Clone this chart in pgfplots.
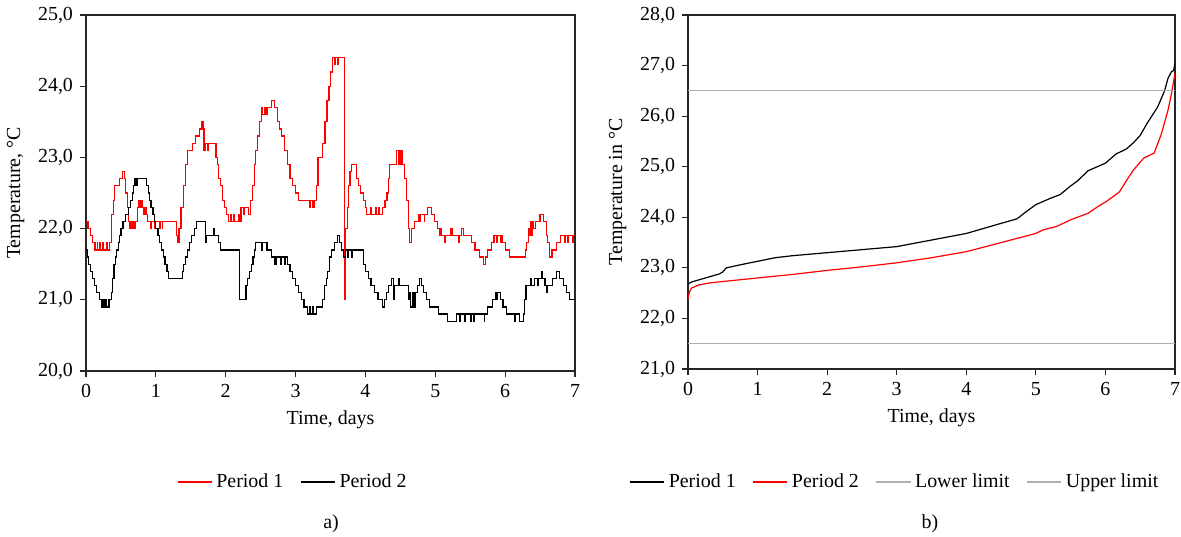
\documentclass[border=0pt]{standalone}
\usepackage{fontspec}
\setmainfont{Liberation Serif}
\usepackage{pgfplots}
\pgfplotsset{compat=1.18}
\definecolor{limgray}{RGB}{175,175,175}
\begin{document}
\fontsize{10}{12}\selectfont
\begin{tikzpicture}
\path[use as bounding box] (0,0) rectangle (590.5bp,268.5bp);
\pgfplotsset{
  mystyle/.style={
    scale only axis,
    anchor=south west,
    xmin=0,xmax=7,
    xtick={0,...,7},
    tick align=outside,
    tick pos=left,
    axis line style={line width=0.7bp, black!85},
    major tick length=3bp,
    tick style={line width=0.6bp, black!85},
    every tick label/.append style={font=\fontsize{10}{12}\selectfont},
    label style={font=\fontsize{10}{12}\selectfont},
    /pgf/number format/assume math mode=true,
    yticklabel style={/pgf/number format/fixed, /pgf/number format/fixed zerofill, /pgf/number format/precision=1, /pgf/number format/use comma},
    xlabel={Time, days},
    legend style={draw=none, fill=none, legend columns=-1, font=\fontsize{10}{12}\selectfont,
      /tikz/every even column/.append style={column sep=6.5bp}},
    legend image code/.code={\draw[##1] (0cm,0cm) -- (0.6cm,0cm);},
    legend cell align=left,
  }
}
% ---------------- left panel ----------------
\begin{axis}[mystyle,
  at={(43bp,83bp)}, width=244.5bp, height=178bp,
  ymin=20, ymax=25, ytick={20,21,...,25},
  ylabel={Temperature, °C},
  legend style={at={(0.425,-0.312)}, anchor=center},
]
\addplot[const plot, red, line width=0.6bp] coordinates {
(0.00,22.1) (0.03,22.0) (0.06,21.9) (0.09,21.8) (0.13,21.7) (0.16,21.8) (0.17,21.7) (0.20,21.8)
(0.21,21.7) (0.24,21.8) (0.25,21.7) (0.30,21.8) (0.31,21.7) (0.34,21.8) (0.36,22.0) (0.37,22.2)
(0.39,22.4) (0.41,22.6) (0.48,22.7) (0.52,22.8) (0.55,22.7) (0.57,22.5) (0.59,22.3) (0.61,22.1)
(0.63,22.0) (0.65,22.1) (0.66,22.0) (0.68,22.1) (0.69,22.0) (0.71,22.1) (0.74,22.3) (0.76,22.4)
(0.78,22.3) (0.79,22.4) (0.81,22.3) (0.83,22.2) (0.85,22.3) (0.86,22.2) (0.88,22.1) (0.92,22.0)
(0.93,22.1) (0.98,22.0) (1.00,22.1) (1.05,22.0) (1.06,22.1) (1.09,22.0) (1.10,22.1) (1.29,21.9)
(1.31,21.8) (1.33,22.0) (1.36,22.3) (1.39,22.6) (1.42,22.9) (1.45,23.1) (1.52,23.2) (1.57,23.3)
(1.62,23.4) (1.66,23.5) (1.68,23.4) (1.69,23.1) (1.71,23.2) (1.74,23.1) (1.75,23.2) (1.86,23.0)
(1.88,22.9) (1.90,22.7) (1.92,22.6) (1.95,22.4) (1.98,22.3) (2.01,22.2) (2.04,22.1) (2.07,22.2)
(2.08,22.1) (2.11,22.2) (2.12,22.1) (2.18,22.2) (2.20,22.1) (2.22,22.3) (2.25,22.2) (2.27,22.3)
(2.33,22.2) (2.35,22.4) (2.38,22.6) (2.41,22.9) (2.43,23.1) (2.46,23.3) (2.48,23.5) (2.51,23.7)
(2.53,23.6) (2.55,23.7) (2.57,23.6) (2.59,23.7) (2.65,23.8) (2.70,23.7) (2.74,23.5) (2.77,23.4)
(2.80,23.3) (2.84,23.1) (2.88,22.9) (2.92,22.7) (2.96,22.6) (3.00,22.5) (3.04,22.4) (3.20,22.3)
(3.21,22.4) (3.25,22.3) (3.27,22.4) (3.30,22.6) (3.32,23.0) (3.39,23.2) (3.42,23.5) (3.45,23.8)
(3.48,24.0) (3.50,24.2) (3.53,24.4) (3.56,24.3) (3.57,24.4) (3.60,24.3) (3.61,24.4) (3.70,21.0)
(3.71,21.6) (3.72,22.0) (3.74,22.3) (3.76,22.6) (3.78,22.8) (3.80,22.9) (3.87,22.7) (3.90,22.6)
(3.93,22.5) (3.97,22.4) (4.00,22.3) (4.02,22.2) (4.08,22.3) (4.09,22.2) (4.14,22.3) (4.15,22.2)
(4.19,22.3) (4.20,22.2) (4.25,22.3) (4.28,22.4) (4.31,22.5) (4.33,22.7) (4.35,22.9) (4.45,23.1)
(4.47,22.9) (4.48,23.1) (4.50,22.9) (4.51,23.1) (4.53,22.9) (4.56,22.7) (4.59,22.4) (4.62,22.0)
(4.63,21.8) (4.66,22.0) (4.70,22.1) (4.76,22.2) (4.78,22.1) (4.79,22.2) (4.84,22.1) (4.85,22.2)
(4.89,22.3) (4.95,22.2) (4.99,22.1) (5.03,22.0) (5.06,21.9) (5.08,22.0) (5.09,21.9) (5.14,21.8)
(5.15,21.9) (5.22,22.0) (5.24,21.9) (5.33,21.8) (5.34,21.9) (5.38,22.0) (5.40,21.9) (5.52,21.8)
(5.57,21.7) (5.63,21.6) (5.69,21.5) (5.72,21.6) (5.75,21.7) (5.80,21.8) (5.84,21.9) (5.88,21.8)
(5.89,21.9) (5.93,21.8) (5.94,21.9) (5.96,21.8) (6.00,21.7) (6.06,21.6) (6.29,21.7) (6.31,21.8)
(6.34,22.0) (6.35,21.9) (6.36,22.1) (6.38,21.9) (6.39,22.1) (6.41,22.0) (6.43,22.1) (6.50,22.2)
(6.55,22.1) (6.59,21.9) (6.61,21.8) (6.64,21.6) (6.67,21.7) (6.73,21.8) (6.79,21.9) (6.85,21.8)
(6.86,21.9) (6.90,21.8) (6.91,21.9) (6.96,21.8) (6.98,21.9) (7.00,21.9)
};
\addlegendentry{Period 1}
\addplot[const plot, black, line width=0.6bp] coordinates {
(0.00,21.7) (0.02,21.6) (0.04,21.5) (0.06,21.4) (0.09,21.3) (0.12,21.2) (0.15,21.1) (0.19,21.0)
(0.23,20.9) (0.25,21.0) (0.26,20.9) (0.28,21.0) (0.29,20.9) (0.33,21.0) (0.36,21.1) (0.38,21.3)
(0.40,21.5) (0.42,21.6) (0.44,21.7) (0.46,21.8) (0.48,21.9) (0.50,22.0) (0.53,22.1) (0.57,22.2)
(0.61,22.3) (0.64,22.4) (0.66,22.5) (0.68,22.6) (0.70,22.7) (0.71,22.6) (0.73,22.7) (0.87,22.6)
(0.89,22.5) (0.91,22.4) (0.93,22.3) (0.96,22.2) (0.98,22.1) (1.00,22.0) (1.03,21.9) (1.05,21.8)
(1.08,21.7) (1.11,21.6) (1.13,21.5) (1.16,21.4) (1.18,21.3) (1.38,21.4) (1.40,21.5) (1.43,21.6)
(1.45,21.7) (1.48,21.8) (1.51,21.9) (1.55,22.0) (1.58,22.1) (1.71,21.8) (1.72,21.9) (1.83,22.0)
(1.84,21.9) (1.90,21.8) (1.93,21.7) (2.20,21.0) (2.29,21.2) (2.31,21.3) (2.34,21.4) (2.37,21.5)
(2.39,21.6) (2.41,21.7) (2.43,21.8) (2.51,21.7) (2.52,21.8) (2.59,21.7) (2.65,21.6) (2.70,21.5)
(2.72,21.6) (2.78,21.5) (2.80,21.6) (2.84,21.5) (2.85,21.6) (2.88,21.5) (2.92,21.4) (2.96,21.3)
(3.00,21.2) (3.04,21.1) (3.08,21.0) (3.12,20.9) (3.17,20.8) (3.20,20.9) (3.21,20.8) (3.25,20.9)
(3.26,20.8) (3.30,20.9) (3.38,21.0) (3.41,21.2) (3.44,21.3) (3.46,21.4) (3.49,21.6) (3.52,21.7)
(3.56,21.8) (3.60,21.9) (3.63,21.8) (3.66,21.7) (3.69,21.6) (3.72,21.7) (3.75,21.6) (3.76,21.7)
(3.80,21.6) (3.81,21.7) (3.97,21.5) (4.00,21.4) (4.04,21.3) (4.08,21.2) (4.13,21.1) (4.18,21.0)
(4.24,20.9) (4.27,21.0) (4.30,21.1) (4.33,21.2) (4.37,21.3) (4.40,21.0) (4.41,21.2) (4.47,21.3)
(4.48,21.2) (4.62,21.0) (4.63,21.1) (4.65,20.9) (4.67,21.1) (4.69,20.9) (4.71,21.1) (4.74,21.2)
(4.77,21.3) (4.80,21.2) (4.83,21.1) (4.87,21.0) (4.92,20.9) (5.05,20.8) (5.18,20.7) (5.30,20.8)
(5.35,20.7) (5.36,20.8) (5.42,20.7) (5.43,20.8) (5.50,20.7) (5.51,20.8) (5.55,20.7) (5.56,20.8)
(5.70,20.7) (5.71,20.8) (5.75,20.9) (5.82,21.0) (5.86,21.1) (5.88,21.0) (5.89,21.1) (5.93,21.0)
(5.97,20.9) (6.02,20.8) (6.14,20.7) (6.15,20.8) (6.20,20.7) (6.26,20.8) (6.28,21.0) (6.30,21.2)
(6.36,21.3) (6.37,21.2) (6.42,21.3) (6.47,21.2) (6.48,21.3) (6.52,21.4) (6.54,21.3) (6.57,21.2)
(6.59,21.1) (6.60,21.2) (6.68,21.3) (6.74,21.4) (6.78,21.3) (6.84,21.2) (6.88,21.1) (6.92,21.0)
(7.00,21.0)
};
\addlegendentry{Period 2}
\end{axis}
% ---------------- right panel ----------------
\begin{axis}[mystyle,
  at={(344bp,84bp)}, width=243.5bp, height=177bp,
  ymin=21, ymax=28, ytick={21,22,...,28},
  ylabel={Temperature in °C},
  legend style={at={(0.427,-0.319)}, anchor=center},
]
\addplot[black, line width=0.6bp] coordinates {
(0,22.68) (0.05,22.72) (0.25,22.8) (0.45,22.88) (0.5,22.92) (0.55,23.0) (0.75,23.06) (1.0,23.13)
(1.25,23.2) (1.5,23.24) (2.0,23.3) (2.5,23.36) (3.0,23.42) (3.5,23.55) (4.0,23.68) (4.3,23.8)
(4.5,23.88) (4.73,23.97) (4.85,24.1) (5.0,24.25) (5.2,24.37) (5.35,24.45) (5.5,24.62) (5.6,24.72)
(5.75,24.92) (6.0,25.07) (6.15,25.25) (6.3,25.35) (6.4,25.47) (6.5,25.62) (6.6,25.86) (6.75,26.18)
(6.85,26.5) (6.9,26.75) (6.95,26.88) (6.98,26.9) (7.0,27.05)
};
\addlegendentry{Period 1}
\addplot[red, line width=0.6bp] coordinates {
(0,22.38) (0.02,22.52) (0.05,22.6) (0.15,22.66) (0.3,22.7) (0.5,22.73) (1.0,22.8) (1.5,22.87)
(2.0,22.95) (2.5,23.02) (3.0,23.1) (3.5,23.2) (4.0,23.32) (4.5,23.5) (5.0,23.68) (5.1,23.75)
(5.3,23.82) (5.5,23.95) (5.75,24.08) (5.9,24.22) (6.0,24.3) (6.2,24.5) (6.3,24.72) (6.4,24.93)
(6.55,25.17) (6.7,25.27) (6.8,25.63) (6.9,26.12) (6.95,26.45) (7.0,26.85)
};
\addlegendentry{Period 2}
\addplot[limgray, line width=0.6bp] coordinates {(0,21.5) (7,21.5)};
\addlegendentry{Lower limit}
\addplot[limgray, line width=0.6bp] coordinates {(0,26.5) (7,26.5)};
\addlegendentry{Upper limit}
\end{axis}
\node at (165.5bp,6.5bp) {a)};
\node at (465bp,6.5bp) {b)};
\end{tikzpicture}
\end{document}
